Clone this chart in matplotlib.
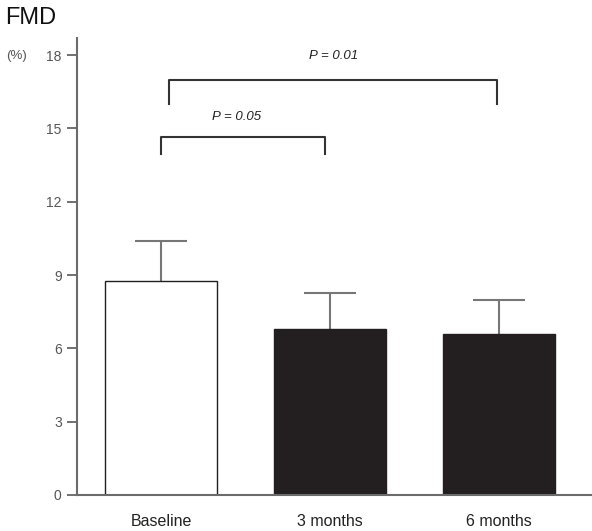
import numpy as np
import matplotlib
matplotlib.use("Agg")
import matplotlib.pyplot as plt

# data
groups = ["Baseline", "3 months", "6 months"]
fmd_mean = [8.76, 6.78, 6.59]
fmd_err = [1.63, 1.50, 1.39]
bar_colors = ["white", "#231f20", "#231f20"]

y_ticks = [0, 3, 6, 9, 12, 15, 18]

# significance brackets: (x_left, x_right, y_top, y_bottom, label, label_x, label_y)
brackets = [
    (0.05, 1.99, 16.98, 16.0, "P = 0.01", 1.02, 17.95),
    (0.0, 0.97, 14.65, 13.95, "P = 0.05", 0.45, 15.45),
]

plt.rcParams["font.family"] = ["Liberation Sans", "DejaVu Sans"]

fig = plt.figure(figsize=(5.92, 5.31), dpi=100)
ax = fig.add_axes([0.130, 0.0678, 0.870, 0.8606])

x = np.arange(len(groups))
ax.bar(x, fmd_mean, width=0.665, color=bar_colors, edgecolor="#231f20",
       linewidth=1.0, zorder=2)
_, caps, _ = ax.errorbar(x, fmd_mean, yerr=[np.zeros(len(fmd_err)), fmd_err],
                         fmt="none", ecolor="#777777", elinewidth=1.5,
                         capsize=19, capthick=1.5, zorder=1)
# only the upper cap is drawn in the original
caps[0].set_visible(False)

for xl, xr, yt, yb, lab, lx, ly in brackets:
    ax.plot([xl, xl, xr, xr], [yb, yt, yt, yb], color="#333333", lw=1.5,
            clip_on=False)
    ax.text(lx, ly, lab, ha="center", va="center", fontsize=9.5,
            style="italic", color="#222222")

ax.set_xlim(-0.497, 2.55)
ax.set_ylim(0, 18.7)
ax.set_yticks(y_ticks)
ax.set_yticklabels([str(t) for t in y_ticks], fontsize=10, color="#555555")
ax.set_xticks(x)
ax.set_xticklabels(groups, fontsize=11.5, color="#222222")
ax.tick_params(axis="x", length=0, pad=14)
ax.tick_params(axis="y", length=7, width=1.3, color="#666666", pad=4)

for side in ["top", "right"]:
    ax.spines[side].set_visible(False)
for side in ["left", "bottom"]:
    ax.spines[side].set_color("#6b6b6b")
    ax.spines[side].set_linewidth(1.5)

fig.text(5 / 592, 1 - 18 / 531, "FMD", fontsize=17, va="center", ha="left",
         color="#111111")
fig.text(6 / 592, 1 - 56 / 531, "(%)", fontsize=9.5, va="center", ha="left",
         color="#555555")

fig.savefig("out.png", dpi=100)
